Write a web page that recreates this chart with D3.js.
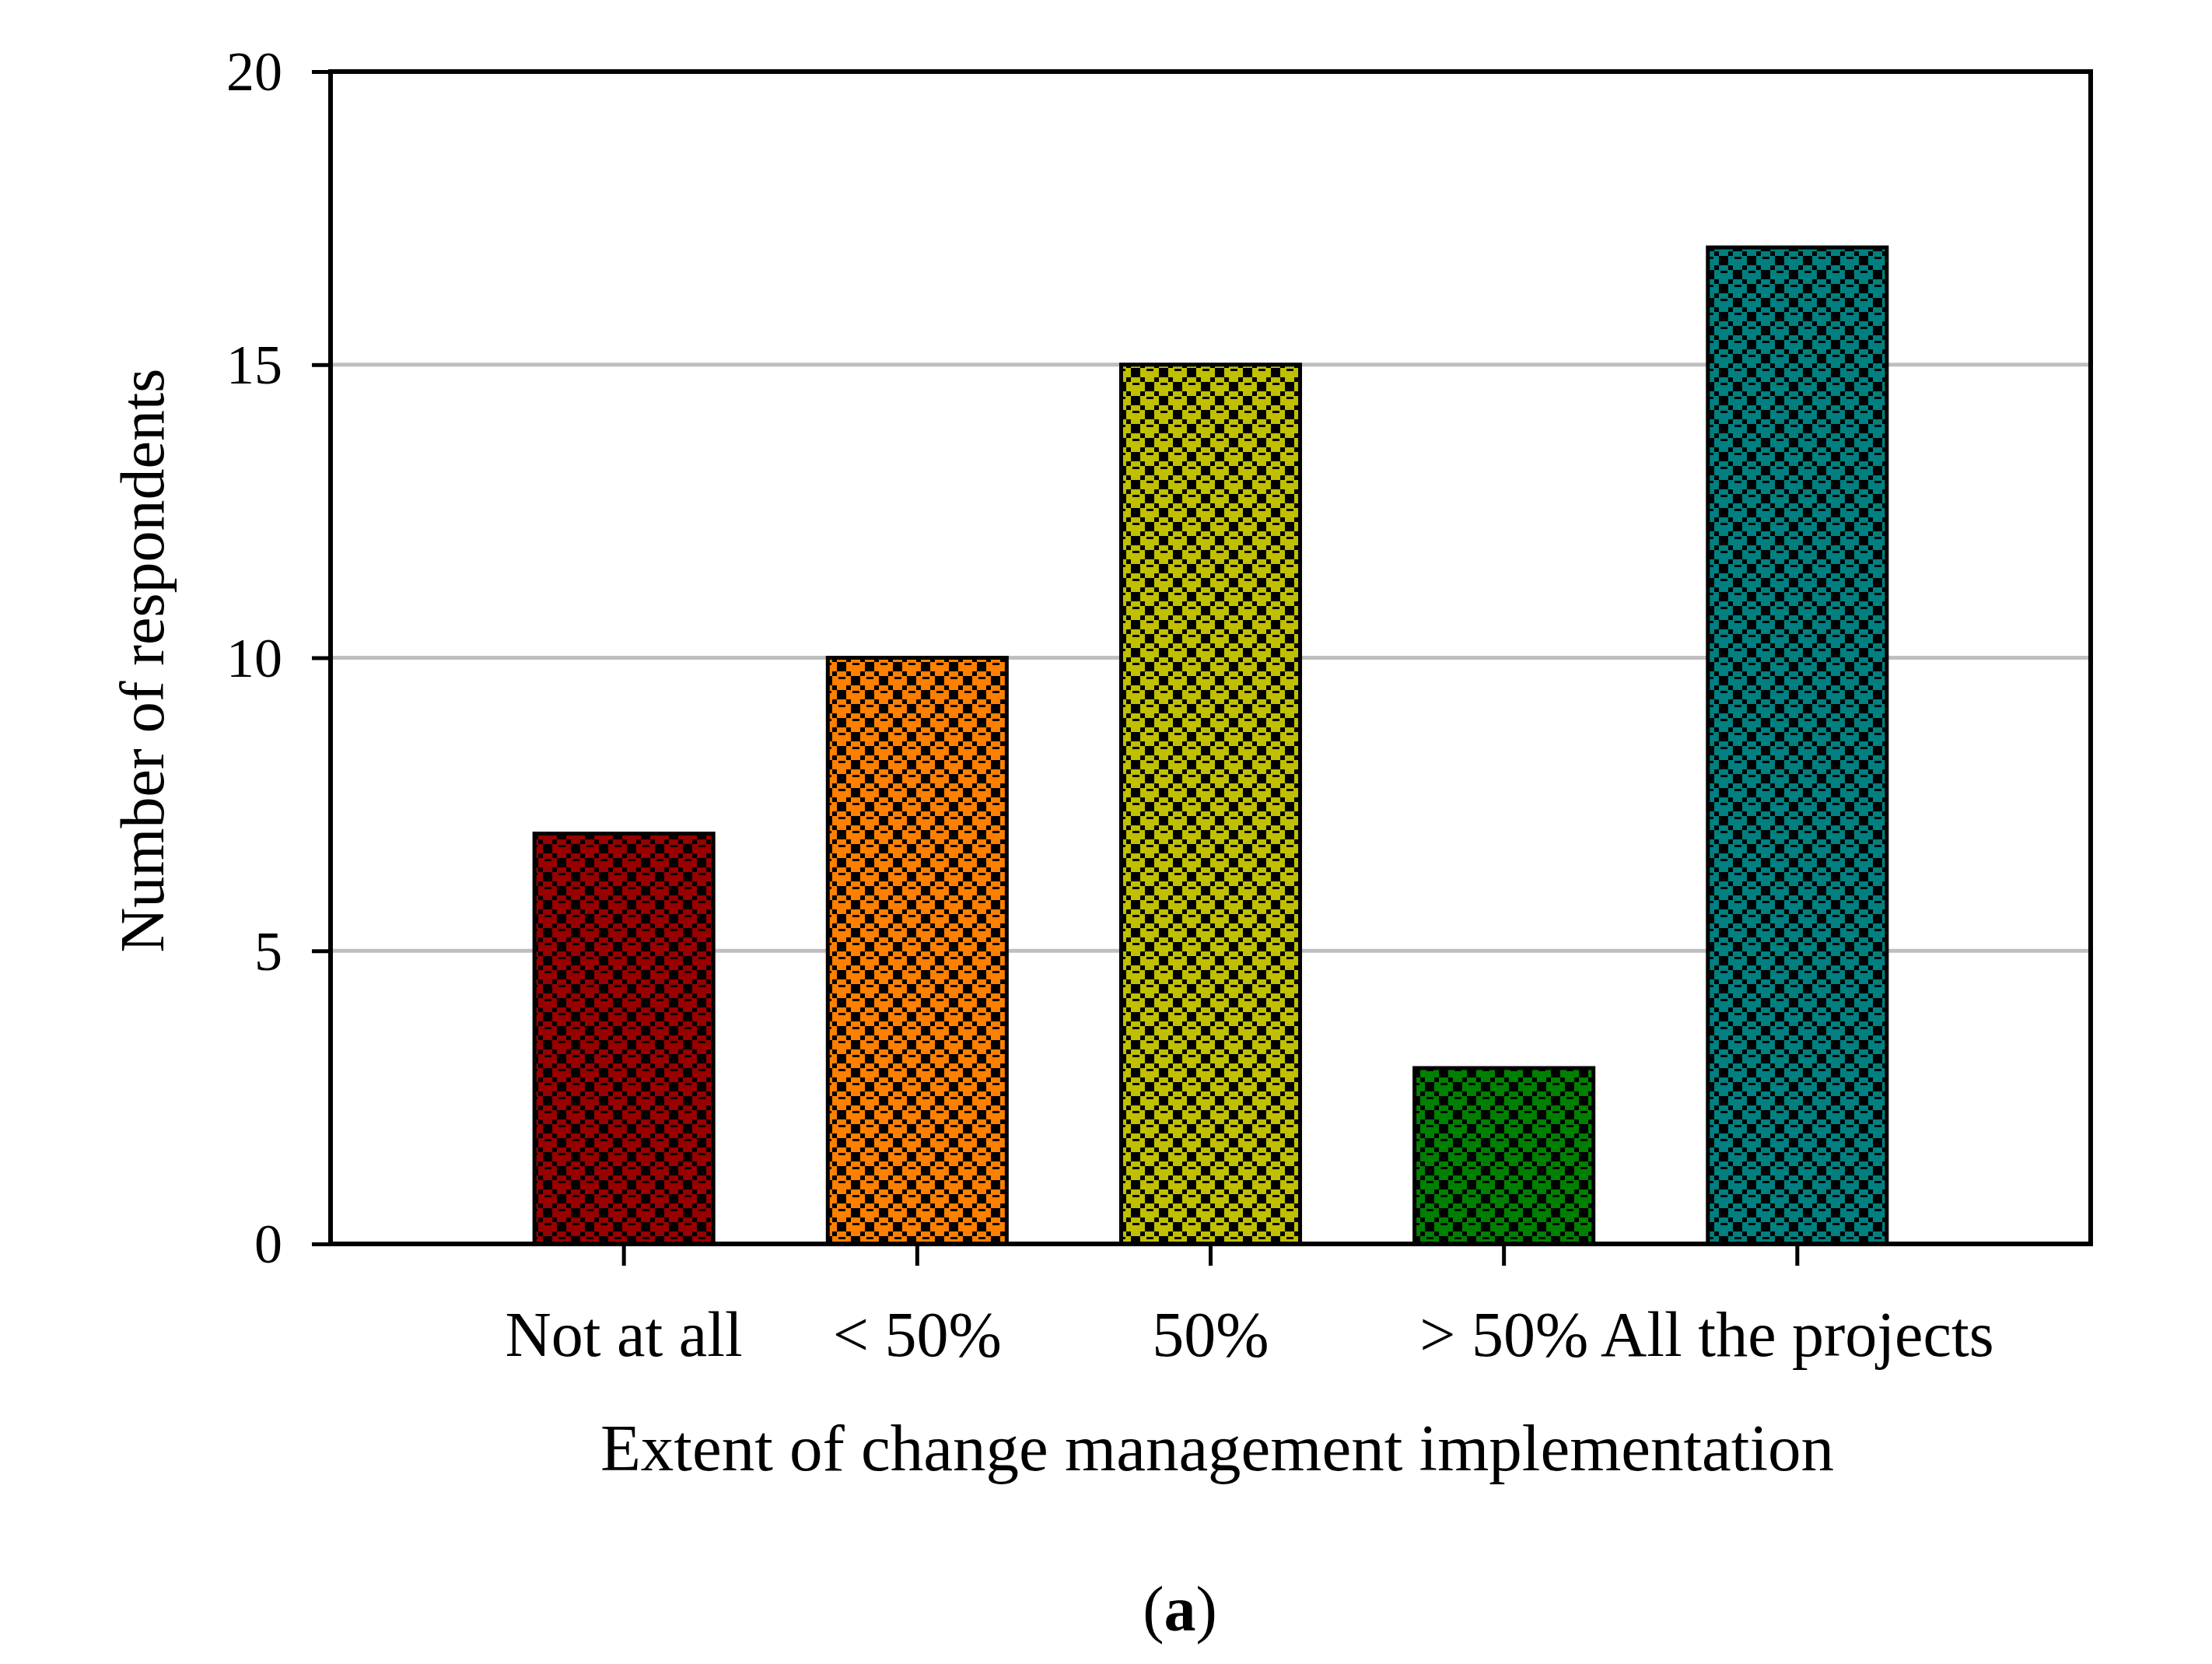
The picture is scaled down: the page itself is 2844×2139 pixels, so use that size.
<!DOCTYPE html>
<html>
<head>
<meta charset="utf-8">
<script src="https://cdn.jsdelivr.net/npm/d3@7"></script>
<style>
  html, body { margin: 0; padding: 0; background: #fff; }
  svg text { font-family: "Liberation Serif", "Times New Roman", serif; fill: #000; }
</style>
</head>
<body>
<div id="chart-wrapper"></div>
<script>
// Chart data
const categories = ["Not at all", "< 50%", "50%", "> 50%", "All the projects"];
const respondents = [7, 10, 15, 3, 17];
const yTicks = [0, 5, 10, 15, 20];
const gridTicks = [5, 10, 15];

// Bar fill colours (one per category)
const palette = ["#990000", "#ff8000", "#c0c000", "#008000", "#008080"];

const initChart = () => {
  const fullWidth = 2844,
    fullHeight = 2139;

  const margin = { top: 92, right: 156, bottom: 540, left: 425 },
    width = fullWidth - margin.left - margin.right,
    height = fullHeight - margin.top - margin.bottom;

  const svg = d3.select("#chart-wrapper").append("svg")
    .attr("width", fullWidth)
    .attr("height", fullHeight)
    .style("display", "block");

  // Checker patterns, one per colour
  const defs = svg.append("defs");
  palette.forEach((c, i) => {
    const p = defs.append("pattern")
      .attr("id", "checker-" + i)
      .attr("patternUnits", "userSpaceOnUse")
      .attr("width", 36)
      .attr("height", 36);
    p.append("rect").attr("width", 36).attr("height", 36).attr("fill", c);
    // big squares
    p.append("rect").attr("x", 3).attr("y", 3).attr("width", 12).attr("height", 12).attr("fill", "#000");
    p.append("rect").attr("x", 21).attr("y", 21).attr("width", 12).attr("height", 12).attr("fill", "#000");
    // corner dots
    [[0, 0], [18, 0], [0, 18], [18, 18], [36, 0], [0, 36], [36, 36], [36, 18], [18, 36]].forEach(([x, y]) => {
      p.append("rect").attr("x", x - 3).attr("y", y - 3).attr("width", 6).attr("height", 6).attr("fill", "#000");
    });
    // little dashes
    p.append("rect").attr("x", 23).attr("y", 4).attr("width", 9).attr("height", 3).attr("fill", "#000");
    p.append("rect").attr("x", 5).attr("y", 22).attr("width", 9).attr("height", 3).attr("fill", "#000");
  });

  const g = svg.append("g")
    .attr("transform", `translate(${margin.left},${margin.top})`);

  const xScale = d3.scaleBand()
    .domain(categories)
    .range([0, width])
    .paddingInner(0.39)
    .paddingOuter(0.695);

  const yScale = d3.scaleLinear()
    .domain([0, 20])
    .range([height, 0]);

  // Gridlines
  g.selectAll(".grid")
    .data(gridTicks)
    .enter()
    .append("line")
    .attr("x1", 0)
    .attr("x2", width)
    .attr("y1", d => yScale(d))
    .attr("y2", d => yScale(d))
    .attr("stroke", "#bfbfbf")
    .attr("stroke-width", 5);

  // Bars
  g.selectAll(".bar")
    .data(respondents)
    .enter()
    .append("rect")
    .attr("x", (d, i) => xScale(categories[i]))
    .attr("y", d => yScale(d))
    .attr("width", xScale.bandwidth())
    .attr("height", d => height - yScale(d))
    .attr("fill", (d, i) => `url(#checker-${i})`)
    .attr("stroke", "#000")
    .attr("stroke-width", 5);

  // Y axis
  const yAxis = g.append("g")
    .call(d3.axisLeft(yScale).tickValues(yTicks).tickSize(24).tickSizeOuter(0).tickPadding(38));
  yAxis.select(".domain").remove();
  yAxis.selectAll("line").attr("stroke", "#000").attr("stroke-width", 5);
  yAxis.selectAll("text")
    .attr("font-size", 72)
    .attr("font-family", null)
    .attr("dy", "0.33em");

  // X axis
  const xAxis = g.append("g")
    .attr("transform", `translate(0,${height})`)
    .call(d3.axisBottom(xScale).tickSize(28).tickSizeOuter(0));
  xAxis.select(".domain").remove();
  xAxis.selectAll("line").attr("stroke", "#000").attr("stroke-width", 5);
  xAxis.selectAll("text")
    .attr("font-size", 82)
    .attr("font-family", null)
    .attr("y", 144)
    .attr("dy", 0);

  // Plot frame
  g.append("rect")
    .attr("x", 0)
    .attr("y", 0)
    .attr("width", width)
    .attr("height", height)
    .attr("fill", "none")
    .attr("stroke", "#000")
    .attr("stroke-width", 6);

  // Axis titles
  svg.append("text")
    .attr("x", 1565)
    .attr("y", 1890)
    .attr("text-anchor", "middle")
    .attr("font-size", 85)
    .text("Extent of change management implementation");

  svg.append("text")
    .attr("transform", "translate(210,849) rotate(-90)")
    .attr("text-anchor", "middle")
    .attr("font-size", 80)
    .text("Number of respondents");

  // Panel label
  const label = svg.append("text")
    .attr("x", 1517)
    .attr("y", 2096)
    .attr("text-anchor", "middle")
    .attr("font-size", 82);
  label.append("tspan").text("(");
  label.append("tspan").attr("font-weight", "bold").text("a");
  label.append("tspan").text(")");
}

// Init chart on page load
window.onload = () => {
  initChart();
}
</script>
</body>
</html>
